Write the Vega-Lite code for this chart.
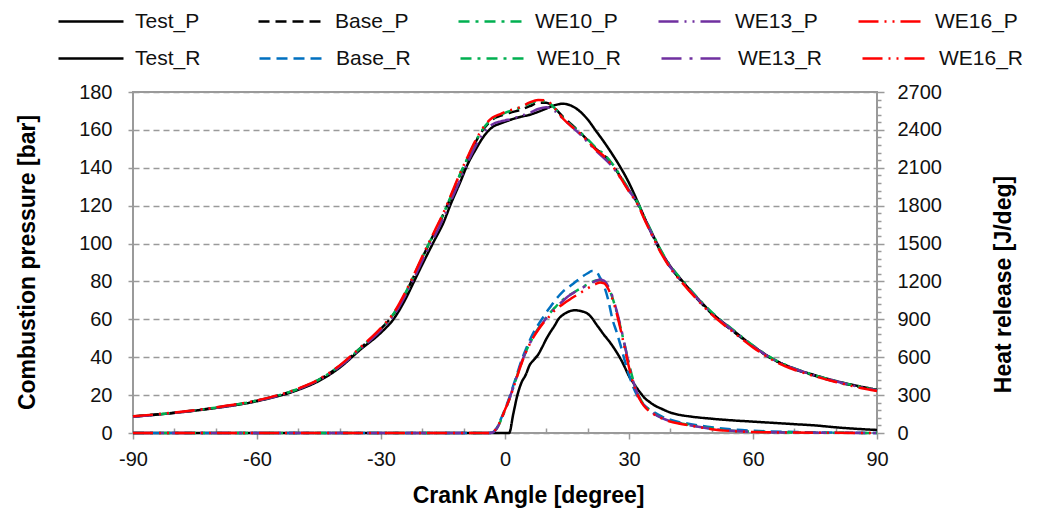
{
"$schema": "https://vega.github.io/schema/vega-lite/v6.json",
"width": 744, "height": 341,
"autosize": "none",
"padding": {"left": 133, "top": 92, "right": 160, "bottom": 81},
"background": "white",
"config": {"font": "Liberation Sans", "view": {"stroke": "#9a9a9a", "strokeWidth": 2}},
"datasets": {
"press": [
{"a":-90,"s":"Test_P","v":8.6},{"a":-80,"s":"Test_P","v":10.6},{"a":-70,"s":"Test_P","v":13.2},{"a":-60,"s":"Test_P","v":16.8},{"a":-50,"s":"Test_P","v":22.8},{"a":-45,"s":"Test_P","v":27.5},{"a":-40,"s":"Test_P","v":34.5},{"a":-35,"s":"Test_P","v":44},{"a":-30,"s":"Test_P","v":53},{"a":-27,"s":"Test_P","v":60},{"a":-24,"s":"Test_P","v":71},{"a":-22,"s":"Test_P","v":80},{"a":-20,"s":"Test_P","v":89},{"a":-17,"s":"Test_P","v":102},{"a":-15,"s":"Test_P","v":110.5},{"a":-13,"s":"Test_P","v":121.5},{"a":-11,"s":"Test_P","v":131.5},{"a":-9,"s":"Test_P","v":142},{"a":-7,"s":"Test_P","v":150},{"a":-5,"s":"Test_P","v":157},{"a":-3,"s":"Test_P","v":161.5},{"a":-1,"s":"Test_P","v":163.5},{"a":0,"s":"Test_P","v":164.3},{"a":2,"s":"Test_P","v":165.8},{"a":4,"s":"Test_P","v":167},{"a":6,"s":"Test_P","v":168},{"a":8,"s":"Test_P","v":169.5},{"a":10,"s":"Test_P","v":171.3},{"a":12,"s":"Test_P","v":173},{"a":14,"s":"Test_P","v":173.8},{"a":16,"s":"Test_P","v":172.8},{"a":18,"s":"Test_P","v":170},{"a":20,"s":"Test_P","v":165.5},{"a":22,"s":"Test_P","v":159.5},{"a":24,"s":"Test_P","v":153.5},{"a":26,"s":"Test_P","v":147},{"a":28,"s":"Test_P","v":140},{"a":30,"s":"Test_P","v":132},{"a":32,"s":"Test_P","v":122.5},{"a":34,"s":"Test_P","v":112.5},{"a":36,"s":"Test_P","v":103.5},{"a":38,"s":"Test_P","v":95},{"a":40,"s":"Test_P","v":88},{"a":43,"s":"Test_P","v":80},{"a":46,"s":"Test_P","v":72.5},{"a":50,"s":"Test_P","v":63.5},{"a":55,"s":"Test_P","v":54.5},{"a":60,"s":"Test_P","v":46},{"a":65,"s":"Test_P","v":38.8},{"a":70,"s":"Test_P","v":34},{"a":75,"s":"Test_P","v":30.5},{"a":80,"s":"Test_P","v":27.5},{"a":85,"s":"Test_P","v":25},{"a":90,"s":"Test_P","v":22.8},

{"a":-90,"s":"Base_P","v":8.7},{"a":-80,"s":"Base_P","v":10.7},{"a":-70,"s":"Base_P","v":13.4},{"a":-60,"s":"Base_P","v":17.1},{"a":-50,"s":"Base_P","v":23.3},{"a":-45,"s":"Base_P","v":28.2},{"a":-40,"s":"Base_P","v":35.4},{"a":-35,"s":"Base_P","v":44.8},{"a":-30,"s":"Base_P","v":55},{"a":-27,"s":"Base_P","v":62.5},{"a":-24,"s":"Base_P","v":74},{"a":-22,"s":"Base_P","v":83},{"a":-20,"s":"Base_P","v":92.5},{"a":-17,"s":"Base_P","v":106},{"a":-15,"s":"Base_P","v":115},{"a":-13,"s":"Base_P","v":125},{"a":-11,"s":"Base_P","v":135.5},{"a":-9,"s":"Base_P","v":145},{"a":-7,"s":"Base_P","v":154},{"a":-5,"s":"Base_P","v":161},{"a":-3,"s":"Base_P","v":165.5},{"a":-1,"s":"Base_P","v":167.5},{"a":0,"s":"Base_P","v":168.3},{"a":2,"s":"Base_P","v":169.5},{"a":4,"s":"Base_P","v":170.8},{"a":6,"s":"Base_P","v":172.5},{"a":8,"s":"Base_P","v":174.3},{"a":10,"s":"Base_P","v":174.3},{"a":12,"s":"Base_P","v":171.5},{"a":14,"s":"Base_P","v":167},{"a":16,"s":"Base_P","v":163},{"a":18,"s":"Base_P","v":159},{"a":20,"s":"Base_P","v":154.5},{"a":22,"s":"Base_P","v":150},{"a":24,"s":"Base_P","v":146.5},{"a":26,"s":"Base_P","v":141.5},{"a":28,"s":"Base_P","v":135},{"a":30,"s":"Base_P","v":128},{"a":32,"s":"Base_P","v":121.5},{"a":34,"s":"Base_P","v":112},{"a":36,"s":"Base_P","v":103},{"a":38,"s":"Base_P","v":94.5},{"a":40,"s":"Base_P","v":87.5},{"a":43,"s":"Base_P","v":79.5},{"a":46,"s":"Base_P","v":72},{"a":50,"s":"Base_P","v":63},{"a":55,"s":"Base_P","v":54},{"a":60,"s":"Base_P","v":45.7},{"a":65,"s":"Base_P","v":38.6},{"a":70,"s":"Base_P","v":33.8},{"a":75,"s":"Base_P","v":30.2},{"a":80,"s":"Base_P","v":27.2},{"a":85,"s":"Base_P","v":24.7},{"a":90,"s":"Base_P","v":22.5},

{"a":-90,"s":"WE10_P","v":8.7},{"a":-80,"s":"WE10_P","v":10.7},{"a":-70,"s":"WE10_P","v":13.4},{"a":-60,"s":"WE10_P","v":17.1},{"a":-50,"s":"WE10_P","v":23.3},{"a":-45,"s":"WE10_P","v":28.2},{"a":-40,"s":"WE10_P","v":35.4},{"a":-35,"s":"WE10_P","v":44.8},{"a":-30,"s":"WE10_P","v":55.2},{"a":-27,"s":"WE10_P","v":62.8},{"a":-24,"s":"WE10_P","v":74.3},{"a":-22,"s":"WE10_P","v":83.3},{"a":-20,"s":"WE10_P","v":92.8},{"a":-17,"s":"WE10_P","v":106.3},{"a":-15,"s":"WE10_P","v":115.3},{"a":-13,"s":"WE10_P","v":125.5},{"a":-11,"s":"WE10_P","v":136},{"a":-9,"s":"WE10_P","v":145.5},{"a":-7,"s":"WE10_P","v":154.5},{"a":-5,"s":"WE10_P","v":161.5},{"a":-3,"s":"WE10_P","v":166},{"a":-1,"s":"WE10_P","v":168},{"a":0,"s":"WE10_P","v":169},{"a":2,"s":"WE10_P","v":170.5},{"a":4,"s":"WE10_P","v":172},{"a":6,"s":"WE10_P","v":174},{"a":8,"s":"WE10_P","v":175.3},{"a":10,"s":"WE10_P","v":175},{"a":12,"s":"WE10_P","v":171.5},{"a":14,"s":"WE10_P","v":166.5},{"a":16,"s":"WE10_P","v":162.5},{"a":18,"s":"WE10_P","v":159},{"a":20,"s":"WE10_P","v":155},{"a":22,"s":"WE10_P","v":150.5},{"a":24,"s":"WE10_P","v":147},{"a":26,"s":"WE10_P","v":142},{"a":28,"s":"WE10_P","v":135.5},{"a":30,"s":"WE10_P","v":128.5},{"a":32,"s":"WE10_P","v":122},{"a":34,"s":"WE10_P","v":112.8},{"a":36,"s":"WE10_P","v":103.8},{"a":38,"s":"WE10_P","v":95.3},{"a":40,"s":"WE10_P","v":88.3},{"a":43,"s":"WE10_P","v":80.3},{"a":46,"s":"WE10_P","v":72.8},{"a":50,"s":"WE10_P","v":63.8},{"a":55,"s":"WE10_P","v":54.8},{"a":60,"s":"WE10_P","v":46.2},{"a":65,"s":"WE10_P","v":39},{"a":70,"s":"WE10_P","v":34.1},{"a":75,"s":"WE10_P","v":30.5},{"a":80,"s":"WE10_P","v":27.4},{"a":85,"s":"WE10_P","v":24.8},{"a":90,"s":"WE10_P","v":22.6},

{"a":-90,"s":"WE13_P","v":8.6},{"a":-80,"s":"WE13_P","v":10.6},{"a":-70,"s":"WE13_P","v":13.3},{"a":-60,"s":"WE13_P","v":17},{"a":-50,"s":"WE13_P","v":23.1},{"a":-45,"s":"WE13_P","v":28},{"a":-40,"s":"WE13_P","v":35.1},{"a":-35,"s":"WE13_P","v":44.4},{"a":-30,"s":"WE13_P","v":54.3},{"a":-27,"s":"WE13_P","v":61.8},{"a":-24,"s":"WE13_P","v":73},{"a":-22,"s":"WE13_P","v":81.8},{"a":-20,"s":"WE13_P","v":91},{"a":-17,"s":"WE13_P","v":104},{"a":-15,"s":"WE13_P","v":113},{"a":-13,"s":"WE13_P","v":123},{"a":-11,"s":"WE13_P","v":133},{"a":-9,"s":"WE13_P","v":143},{"a":-7,"s":"WE13_P","v":152},{"a":-5,"s":"WE13_P","v":159},{"a":-3,"s":"WE13_P","v":163},{"a":-1,"s":"WE13_P","v":164.5},{"a":0,"s":"WE13_P","v":165},{"a":2,"s":"WE13_P","v":166},{"a":4,"s":"WE13_P","v":167.5},{"a":6,"s":"WE13_P","v":169},{"a":8,"s":"WE13_P","v":171},{"a":10,"s":"WE13_P","v":172},{"a":12,"s":"WE13_P","v":170},{"a":14,"s":"WE13_P","v":166},{"a":16,"s":"WE13_P","v":162},{"a":18,"s":"WE13_P","v":158},{"a":20,"s":"WE13_P","v":153.5},{"a":22,"s":"WE13_P","v":149},{"a":24,"s":"WE13_P","v":145},{"a":26,"s":"WE13_P","v":140.5},{"a":28,"s":"WE13_P","v":134.5},{"a":30,"s":"WE13_P","v":128},{"a":32,"s":"WE13_P","v":121.5},{"a":34,"s":"WE13_P","v":112},{"a":36,"s":"WE13_P","v":103},{"a":38,"s":"WE13_P","v":94.6},{"a":40,"s":"WE13_P","v":87.6},{"a":43,"s":"WE13_P","v":79.6},{"a":46,"s":"WE13_P","v":72.2},{"a":50,"s":"WE13_P","v":63.2},{"a":55,"s":"WE13_P","v":54.2},{"a":60,"s":"WE13_P","v":45.8},{"a":65,"s":"WE13_P","v":38.7},{"a":70,"s":"WE13_P","v":33.9},{"a":75,"s":"WE13_P","v":30.3},{"a":80,"s":"WE13_P","v":27.3},{"a":85,"s":"WE13_P","v":24.7},{"a":90,"s":"WE13_P","v":22.5},

{"a":-90,"s":"WE16_P","v":8.8},{"a":-80,"s":"WE16_P","v":10.8},{"a":-70,"s":"WE16_P","v":13.5},{"a":-60,"s":"WE16_P","v":17.2},{"a":-50,"s":"WE16_P","v":23.5},{"a":-45,"s":"WE16_P","v":28.4},{"a":-40,"s":"WE16_P","v":35.7},{"a":-35,"s":"WE16_P","v":45.2},{"a":-30,"s":"WE16_P","v":55.5},{"a":-27,"s":"WE16_P","v":63.2},{"a":-24,"s":"WE16_P","v":74.8},{"a":-22,"s":"WE16_P","v":83.8},{"a":-20,"s":"WE16_P","v":93.3},{"a":-17,"s":"WE16_P","v":106.8},{"a":-15,"s":"WE16_P","v":115.8},{"a":-13,"s":"WE16_P","v":126},{"a":-11,"s":"WE16_P","v":136.5},{"a":-9,"s":"WE16_P","v":146},{"a":-7,"s":"WE16_P","v":155},{"a":-5,"s":"WE16_P","v":162},{"a":-3,"s":"WE16_P","v":166.5},{"a":-1,"s":"WE16_P","v":168.5},{"a":0,"s":"WE16_P","v":169.5},{"a":2,"s":"WE16_P","v":170.8},{"a":4,"s":"WE16_P","v":172.3},{"a":6,"s":"WE16_P","v":174.5},{"a":8,"s":"WE16_P","v":175.8},{"a":10,"s":"WE16_P","v":175.5},{"a":12,"s":"WE16_P","v":171.5},{"a":14,"s":"WE16_P","v":166},{"a":16,"s":"WE16_P","v":162},{"a":18,"s":"WE16_P","v":158.5},{"a":20,"s":"WE16_P","v":154},{"a":22,"s":"WE16_P","v":149.5},{"a":24,"s":"WE16_P","v":146},{"a":26,"s":"WE16_P","v":141},{"a":28,"s":"WE16_P","v":134.5},{"a":30,"s":"WE16_P","v":127.5},{"a":32,"s":"WE16_P","v":121},{"a":34,"s":"WE16_P","v":111.5},{"a":36,"s":"WE16_P","v":102.5},{"a":38,"s":"WE16_P","v":94},{"a":40,"s":"WE16_P","v":87},{"a":43,"s":"WE16_P","v":79},{"a":46,"s":"WE16_P","v":71.6},{"a":50,"s":"WE16_P","v":62.6},{"a":55,"s":"WE16_P","v":53.6},{"a":60,"s":"WE16_P","v":45.2},{"a":65,"s":"WE16_P","v":38.2},{"a":70,"s":"WE16_P","v":33.4},{"a":75,"s":"WE16_P","v":29.9},{"a":80,"s":"WE16_P","v":26.9},{"a":85,"s":"WE16_P","v":24.3},{"a":90,"s":"WE16_P","v":22.2}
],
"heat": [
{"a":-90,"s":"Test_R","v":0},{"a":-60,"s":"Test_R","v":0},{"a":-30,"s":"Test_R","v":0},{"a":0,"s":"Test_R","v":0},{"a":1,"s":"Test_R","v":0},{"a":2,"s":"Test_R","v":150},{"a":3,"s":"Test_R","v":300},{"a":4,"s":"Test_R","v":400},{"a":5,"s":"Test_R","v":460},{"a":6,"s":"Test_R","v":540},{"a":7,"s":"Test_R","v":580},{"a":8,"s":"Test_R","v":620},{"a":9,"s":"Test_R","v":680},{"a":10,"s":"Test_R","v":745},{"a":11,"s":"Test_R","v":800},{"a":12,"s":"Test_R","v":850},{"a":13,"s":"Test_R","v":905},{"a":14,"s":"Test_R","v":935},{"a":15,"s":"Test_R","v":955},{"a":16,"s":"Test_R","v":968},{"a":17,"s":"Test_R","v":972},{"a":18,"s":"Test_R","v":968},{"a":19,"s":"Test_R","v":960},{"a":20,"s":"Test_R","v":945},{"a":21,"s":"Test_R","v":912},{"a":22,"s":"Test_R","v":865},{"a":23,"s":"Test_R","v":820},{"a":24,"s":"Test_R","v":775},{"a":25,"s":"Test_R","v":735},{"a":26,"s":"Test_R","v":690},{"a":27,"s":"Test_R","v":640},{"a":28,"s":"Test_R","v":585},{"a":29,"s":"Test_R","v":520},{"a":30,"s":"Test_R","v":450},{"a":31,"s":"Test_R","v":400},{"a":32,"s":"Test_R","v":352},{"a":33,"s":"Test_R","v":308},{"a":34,"s":"Test_R","v":270},{"a":35,"s":"Test_R","v":245},{"a":36,"s":"Test_R","v":222},{"a":38,"s":"Test_R","v":190},{"a":40,"s":"Test_R","v":162},{"a":42,"s":"Test_R","v":145},{"a":45,"s":"Test_R","v":130},{"a":50,"s":"Test_R","v":113},{"a":55,"s":"Test_R","v":100},{"a":60,"s":"Test_R","v":90},{"a":65,"s":"Test_R","v":80},{"a":70,"s":"Test_R","v":70},{"a":75,"s":"Test_R","v":60},{"a":80,"s":"Test_R","v":45},{"a":85,"s":"Test_R","v":33},{"a":90,"s":"Test_R","v":24},

{"a":-90,"s":"Base_R","v":0},{"a":-60,"s":"Base_R","v":0},{"a":-30,"s":"Base_R","v":0},{"a":-4,"s":"Base_R","v":0},{"a":-3,"s":"Base_R","v":5},{"a":-2,"s":"Base_R","v":40},{"a":-1,"s":"Base_R","v":110},{"a":0,"s":"Base_R","v":190},{"a":1,"s":"Base_R","v":275},{"a":2,"s":"Base_R","v":375},{"a":3,"s":"Base_R","v":475},{"a":4,"s":"Base_R","v":575},{"a":5,"s":"Base_R","v":660},{"a":6,"s":"Base_R","v":735},{"a":7,"s":"Base_R","v":800},{"a":8,"s":"Base_R","v":855},{"a":9,"s":"Base_R","v":905},{"a":10,"s":"Base_R","v":955},{"a":11,"s":"Base_R","v":1000},{"a":12,"s":"Base_R","v":1045},{"a":13,"s":"Base_R","v":1085},{"a":14,"s":"Base_R","v":1120},{"a":15,"s":"Base_R","v":1145},{"a":16,"s":"Base_R","v":1170},{"a":17,"s":"Base_R","v":1195},{"a":18,"s":"Base_R","v":1220},{"a":19,"s":"Base_R","v":1245},{"a":20,"s":"Base_R","v":1265},{"a":21,"s":"Base_R","v":1282},{"a":22,"s":"Base_R","v":1278},{"a":23,"s":"Base_R","v":1230},{"a":24,"s":"Base_R","v":1160},{"a":25,"s":"Base_R","v":1050},{"a":26,"s":"Base_R","v":900},{"a":27,"s":"Base_R","v":800},{"a":28,"s":"Base_R","v":690},{"a":29,"s":"Base_R","v":570},{"a":30,"s":"Base_R","v":460},{"a":31,"s":"Base_R","v":365},{"a":32,"s":"Base_R","v":295},{"a":33,"s":"Base_R","v":245},{"a":34,"s":"Base_R","v":210},{"a":35,"s":"Base_R","v":185},{"a":36,"s":"Base_R","v":165},{"a":38,"s":"Base_R","v":130},{"a":40,"s":"Base_R","v":105},{"a":42,"s":"Base_R","v":88},{"a":45,"s":"Base_R","v":70},{"a":50,"s":"Base_R","v":45},{"a":55,"s":"Base_R","v":28},{"a":60,"s":"Base_R","v":18},{"a":70,"s":"Base_R","v":8},{"a":80,"s":"Base_R","v":3},{"a":90,"s":"Base_R","v":0},

{"a":-90,"s":"WE10_R","v":0},{"a":-60,"s":"WE10_R","v":0},{"a":-30,"s":"WE10_R","v":0},{"a":-4,"s":"WE10_R","v":0},{"a":-3,"s":"WE10_R","v":4},{"a":-2,"s":"WE10_R","v":35},{"a":-1,"s":"WE10_R","v":100},{"a":0,"s":"WE10_R","v":180},{"a":1,"s":"WE10_R","v":262},{"a":2,"s":"WE10_R","v":360},{"a":3,"s":"WE10_R","v":460},{"a":4,"s":"WE10_R","v":555},{"a":5,"s":"WE10_R","v":640},{"a":6,"s":"WE10_R","v":710},{"a":7,"s":"WE10_R","v":770},{"a":8,"s":"WE10_R","v":825},{"a":9,"s":"WE10_R","v":870},{"a":10,"s":"WE10_R","v":915},{"a":11,"s":"WE10_R","v":955},{"a":12,"s":"WE10_R","v":990},{"a":13,"s":"WE10_R","v":1025},{"a":14,"s":"WE10_R","v":1055},{"a":15,"s":"WE10_R","v":1080},{"a":16,"s":"WE10_R","v":1100},{"a":17,"s":"WE10_R","v":1120},{"a":18,"s":"WE10_R","v":1140},{"a":19,"s":"WE10_R","v":1160},{"a":20,"s":"WE10_R","v":1178},{"a":21,"s":"WE10_R","v":1195},{"a":22,"s":"WE10_R","v":1208},{"a":23,"s":"WE10_R","v":1212},{"a":24,"s":"WE10_R","v":1195},{"a":25,"s":"WE10_R","v":1150},{"a":26,"s":"WE10_R","v":1070},{"a":27,"s":"WE10_R","v":960},{"a":28,"s":"WE10_R","v":830},{"a":29,"s":"WE10_R","v":690},{"a":30,"s":"WE10_R","v":550},{"a":31,"s":"WE10_R","v":420},{"a":32,"s":"WE10_R","v":320},{"a":33,"s":"WE10_R","v":255},{"a":34,"s":"WE10_R","v":210},{"a":35,"s":"WE10_R","v":180},{"a":36,"s":"WE10_R","v":155},{"a":38,"s":"WE10_R","v":120},{"a":40,"s":"WE10_R","v":95},{"a":42,"s":"WE10_R","v":80},{"a":45,"s":"WE10_R","v":62},{"a":50,"s":"WE10_R","v":35},{"a":55,"s":"WE10_R","v":18},{"a":60,"s":"WE10_R","v":10},{"a":70,"s":"WE10_R","v":4},{"a":80,"s":"WE10_R","v":2},{"a":90,"s":"WE10_R","v":0},

{"a":-90,"s":"WE13_R","v":0},{"a":-60,"s":"WE13_R","v":0},{"a":-30,"s":"WE13_R","v":0},{"a":-4,"s":"WE13_R","v":0},{"a":-3,"s":"WE13_R","v":4},{"a":-2,"s":"WE13_R","v":35},{"a":-1,"s":"WE13_R","v":100},{"a":0,"s":"WE13_R","v":180},{"a":1,"s":"WE13_R","v":265},{"a":2,"s":"WE13_R","v":365},{"a":3,"s":"WE13_R","v":465},{"a":4,"s":"WE13_R","v":560},{"a":5,"s":"WE13_R","v":640},{"a":6,"s":"WE13_R","v":710},{"a":7,"s":"WE13_R","v":768},{"a":8,"s":"WE13_R","v":820},{"a":9,"s":"WE13_R","v":865},{"a":10,"s":"WE13_R","v":910},{"a":11,"s":"WE13_R","v":948},{"a":12,"s":"WE13_R","v":983},{"a":13,"s":"WE13_R","v":1015},{"a":14,"s":"WE13_R","v":1045},{"a":15,"s":"WE13_R","v":1075},{"a":16,"s":"WE13_R","v":1098},{"a":17,"s":"WE13_R","v":1118},{"a":18,"s":"WE13_R","v":1138},{"a":19,"s":"WE13_R","v":1155},{"a":20,"s":"WE13_R","v":1172},{"a":21,"s":"WE13_R","v":1190},{"a":22,"s":"WE13_R","v":1205},{"a":23,"s":"WE13_R","v":1216},{"a":24,"s":"WE13_R","v":1205},{"a":25,"s":"WE13_R","v":1160},{"a":26,"s":"WE13_R","v":1080},{"a":27,"s":"WE13_R","v":970},{"a":28,"s":"WE13_R","v":840},{"a":29,"s":"WE13_R","v":690},{"a":30,"s":"WE13_R","v":540},{"a":31,"s":"WE13_R","v":410},{"a":32,"s":"WE13_R","v":315},{"a":33,"s":"WE13_R","v":250},{"a":34,"s":"WE13_R","v":208},{"a":35,"s":"WE13_R","v":178},{"a":36,"s":"WE13_R","v":153},{"a":38,"s":"WE13_R","v":118},{"a":40,"s":"WE13_R","v":94},{"a":42,"s":"WE13_R","v":79},{"a":45,"s":"WE13_R","v":60},{"a":50,"s":"WE13_R","v":33},{"a":55,"s":"WE13_R","v":17},{"a":60,"s":"WE13_R","v":9},{"a":70,"s":"WE13_R","v":4},{"a":80,"s":"WE13_R","v":2},{"a":90,"s":"WE13_R","v":0},

{"a":-90,"s":"WE16_R","v":0},{"a":-60,"s":"WE16_R","v":0},{"a":-30,"s":"WE16_R","v":0},{"a":-4,"s":"WE16_R","v":0},{"a":-3,"s":"WE16_R","v":8},{"a":-2,"s":"WE16_R","v":40},{"a":-1,"s":"WE16_R","v":105},{"a":0,"s":"WE16_R","v":185},{"a":1,"s":"WE16_R","v":262},{"a":2,"s":"WE16_R","v":355},{"a":3,"s":"WE16_R","v":455},{"a":4,"s":"WE16_R","v":550},{"a":5,"s":"WE16_R","v":635},{"a":6,"s":"WE16_R","v":705},{"a":7,"s":"WE16_R","v":765},{"a":8,"s":"WE16_R","v":815},{"a":9,"s":"WE16_R","v":860},{"a":10,"s":"WE16_R","v":895},{"a":11,"s":"WE16_R","v":935},{"a":12,"s":"WE16_R","v":970},{"a":13,"s":"WE16_R","v":997},{"a":14,"s":"WE16_R","v":1020},{"a":15,"s":"WE16_R","v":1043},{"a":16,"s":"WE16_R","v":1065},{"a":17,"s":"WE16_R","v":1085},{"a":18,"s":"WE16_R","v":1105},{"a":19,"s":"WE16_R","v":1125},{"a":20,"s":"WE16_R","v":1145},{"a":21,"s":"WE16_R","v":1163},{"a":22,"s":"WE16_R","v":1180},{"a":23,"s":"WE16_R","v":1192},{"a":24,"s":"WE16_R","v":1185},{"a":25,"s":"WE16_R","v":1140},{"a":26,"s":"WE16_R","v":1060},{"a":27,"s":"WE16_R","v":950},{"a":28,"s":"WE16_R","v":815},{"a":29,"s":"WE16_R","v":665},{"a":30,"s":"WE16_R","v":520},{"a":31,"s":"WE16_R","v":397},{"a":32,"s":"WE16_R","v":305},{"a":33,"s":"WE16_R","v":245},{"a":34,"s":"WE16_R","v":200},{"a":35,"s":"WE16_R","v":170},{"a":36,"s":"WE16_R","v":148},{"a":38,"s":"WE16_R","v":115},{"a":40,"s":"WE16_R","v":90},{"a":42,"s":"WE16_R","v":76},{"a":45,"s":"WE16_R","v":58},{"a":50,"s":"WE16_R","v":30},{"a":55,"s":"WE16_R","v":15},{"a":60,"s":"WE16_R","v":8},{"a":70,"s":"WE16_R","v":3},{"a":80,"s":"WE16_R","v":1},{"a":90,"s":"WE16_R","v":0}
]
},
"layer": [
{
"data": {"name": "press"},
"mark": {"type": "line", "strokeWidth": 2.5, "interpolate": "monotone"},
"encoding": {
"x": {"field": "a", "type": "quantitative", "scale": {"domain": [-90, 90], "nice": false},
 "axis": {"orient": "bottom", "values": [-90,-80,-70,-60,-50,-40,-30,-20,-10,0,10,20,30,40,50,60,70,80,90],
  "labelExpr": "datum.value % 30 === 0 ? '' + datum.value : ''",
  "domain": false, "grid": false, "tickColor": "#9a9a9a", "tickWidth": 1.5,
  "tickSize": {"condition": {"test": "datum.value % 30 === 0", "value": 6}, "value": -5},
  "labelFontSize": 20, "labelColor": "#111", "labelPadding": 10, "labelFlush": false,
  "title": "Crank Angle [degree]", "titleFontSize": 23, "titleFontWeight": "bold", "titleColor": "#000",
  "titleX": 395, "titleY": 62, "titleBaseline": "middle", "titleAlign": "center"}},
"y": {"field": "v", "type": "quantitative", "scale": {"domain": [0, 180], "nice": false},
 "axis": {"orient": "left", "values": [0,20,40,60,80,100,120,140,160,180],
  "domain": false, "grid": true, "gridDash": [6, 4], "gridColor": "#9a9a9a", "gridWidth": 1.5,
  "tickColor": "#9a9a9a", "tickWidth": 1.5, "tickSize": 5,
  "labelFontSize": 20, "labelColor": "#111", "labelPadding": 16,
  "title": "Combustion pressure [bar]", "titleFontSize": 23, "titleFontWeight": "bold", "titleColor": "#000",
  "titleX": -106, "titleY": 170, "titleAngle": 270, "titleBaseline": "middle", "titleAlign": "center"}},
"color": {"field": "s", "type": "nominal",
 "scale": {"domain": ["Test_P","Base_P","WE10_P","WE13_P","WE16_P"],
  "range": ["#000000","#000000","#00B050","#7030A0","#FF0000"]},
 "legend": {"orient": "none", "legendX": -76, "legendY": -104.5, "direction": "horizontal", "columns": 5, "title": null,
  "symbolType": "stroke", "symbolSize": 4225, "symbolStrokeWidth": 2.5, "labelFontSize": 21, "labelColor": "#111",
  "labelOffset": 10, "columnPadding": 35, "gridAlign": "all"}},
"strokeDash": {"field": "s", "type": "nominal",
 "scale": {"domain": ["Test_P","Base_P","WE10_P","WE13_P","WE16_P"],
  "range": [[1,0],[11,6],[11,6,3,6],[20,6,2,6,2,6],[20,6,2,6,2,6]]},
 "legend": {"orient": "none", "legendX": -76, "legendY": -104.5, "direction": "horizontal", "columns": 5, "title": null,
  "symbolType": "stroke", "symbolSize": 4225, "symbolStrokeWidth": 2.5, "labelFontSize": 21, "labelColor": "#111",
  "labelOffset": 10, "columnPadding": 35, "gridAlign": "all"}}
}
},
{
"data": {"name": "heat"},
"mark": {"type": "line", "strokeWidth": 2.5, "interpolate": "monotone"},
"encoding": {
"x": {"field": "a", "type": "quantitative"},
"y": {"field": "v", "type": "quantitative", "scale": {"domain": [0, 2700], "nice": false},
 "axis": {"orient": "right", "values": [0,60,120,180,240,300,360,420,480,540,600,660,720,780,840,900,960,1020,1080,1140,1200,1260,1320,1380,1440,1500,1560,1620,1680,1740,1800,1860,1920,1980,2040,2100,2160,2220,2280,2340,2400,2460,2520,2580,2640,2700],
  "labelExpr": "datum.value % 300 === 0 ? '' + datum.value : ''",
  "domain": false, "grid": false, "tickColor": "#9a9a9a", "tickWidth": 1.5,
  "tickSize": {"condition": {"test": "datum.value % 300 === 0", "value": 7}, "value": 4},
  "labelFontSize": 20, "labelColor": "#111", "labelPadding": 13, "labelFlush": false,
  "title": "Heat release [J/deg]", "titleFontSize": 23, "titleFontWeight": "bold", "titleColor": "#000",
  "titleX": 126, "titleY": 192, "titleAngle": 270, "titleBaseline": "middle", "titleAlign": "center"}},
"color": {"field": "s", "type": "nominal",
 "scale": {"domain": ["Test_R","Base_R","WE10_R","WE13_R","WE16_R"],
  "range": ["#000000","#0070C0","#00B050","#7030A0","#FF0000"]},
 "legend": {"orient": "none", "legendX": -76, "legendY": -67.5, "direction": "horizontal", "columns": 5, "title": null,
  "symbolType": "stroke", "symbolSize": 4225, "symbolStrokeWidth": 2.5, "labelFontSize": 21, "labelColor": "#111",
  "labelOffset": 10, "columnPadding": 34, "gridAlign": "all"}},
"strokeDash": {"field": "s", "type": "nominal",
 "scale": {"domain": ["Test_R","Base_R","WE10_R","WE13_R","WE16_R"],
  "range": [[1,0],[11,6],[11,6,3,6],[20,8,3,8],[20,6,2,6,2,6]]},
 "legend": {"orient": "none", "legendX": -76, "legendY": -67.5, "direction": "horizontal", "columns": 5, "title": null,
  "symbolType": "stroke", "symbolSize": 4225, "symbolStrokeWidth": 2.5, "labelFontSize": 21, "labelColor": "#111",
  "labelOffset": 10, "columnPadding": 34, "gridAlign": "all"}}
}
}
],
"resolve": {"scale": {"y": "independent", "color": "independent", "strokeDash": "independent"}}
}
